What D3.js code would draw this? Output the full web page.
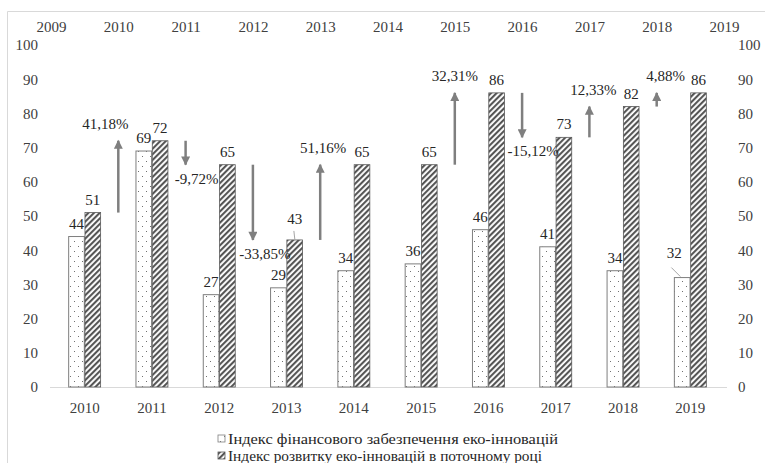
<!DOCTYPE html>
<html>
<head>
<meta charset="utf-8">
<script src="https://cdn.jsdelivr.net/npm/d3@7"></script>
<style>
  body { margin: 0; background: #fff; }
  svg { display: block; }
  svg text { font-family: 'Liberation Serif', 'Times New Roman', serif; }
</style>
</head>
<body>
<svg width="765" height="463"></svg>
<script>
// data
var years = [2010, 2011, 2012, 2013, 2014, 2015, 2016, 2017, 2018, 2019];
var topYears = [2009, 2010, 2011, 2012, 2013, 2014, 2015, 2016, 2017, 2018, 2019];
var finIndex = [44, 69, 27, 29, 34, 36, 46, 41, 34, 32];
var ecoIndex = [51, 72, 65, 43, 65, 65, 86, 73, 82, 86];
var growth = [41.18, -9.72, -33.85, 51.16, 0, 32.31, -15.12, 12.33, 4.88];
var yTicks = [0, 10, 20, 30, 40, 50, 60, 70, 80, 90, 100];
var seriesNames = ['Індекс фінансового забезпечення еко-інновацій',
                   'Індекс розвитку еко-інновацій в поточному році'];

// small label nudges (layout only)
var growthLabelDx = [-13, 11, 12, 3, 0, 0, 11, 4, 9];

var svg = d3.select('svg');

// outer frame (only top and left edges visible)
svg.append('path')
    .attr('d', 'M7.5,463 V11.5 H765')
    .attr('fill', 'none')
    .attr('stroke', '#d9d9d9');

var defs = svg.append('defs');

var dots = defs.append('pattern')
    .attr('id', 'dots')
    .attr('patternUnits', 'userSpaceOnUse')
    .attr('width', 8)
    .attr('height', 10);
dots.append('rect').attr('width', 8).attr('height', 10).attr('fill', '#fff');
dots.append('rect').attr('x', 2).attr('y', 1).attr('width', 1).attr('height', 1).attr('fill', '#707070');
dots.append('rect').attr('x', 6).attr('y', 6).attr('width', 1).attr('height', 1).attr('fill', '#707070');

var hatch = defs.append('pattern')
    .attr('id', 'hatch')
    .attr('patternUnits', 'userSpaceOnUse')
    .attr('width', 4)
    .attr('height', 4)
    .attr('patternTransform', 'rotate(45)');
hatch.append('rect').attr('width', 4).attr('height', 4).attr('fill', '#fff');
hatch.append('line')
    .attr('x1', 1).attr('y1', 0).attr('x2', 1).attr('y2', 4)
    .attr('stroke', '#555')
    .attr('stroke-width', 2.2);

defs.append('marker')
    .attr('id', 'head')
    .attr('viewBox', '0 0 10 10')
    .attr('refX', 9)
    .attr('refY', 5)
    .attr('markerUnits', 'userSpaceOnUse')
    .attr('markerWidth', 10)
    .attr('markerHeight', 9)
    .attr('orient', 'auto')
    .append('path')
    .attr('d', 'M0,0 L10,5 L0,10 Z')
    .attr('fill', '#7f7f7f');

var scaleX = d3.scaleBand().domain(years).range([51, 724]).paddingInner(0.525).paddingOuter(0.2625);
var scaleSub = d3.scaleBand().domain([0, 1]).range([0, scaleX.bandwidth()]).paddingInner(0.04);
var scaleTop = d3.scaleLinear().domain([2009, 2019]).range([51, 724]);
var scaleY = d3.scaleLinear().domain([0, 100]).range([387, 45]);

function pct(g) {
    return (g < 0 ? '-' : '') + Math.abs(g).toFixed(2).replace('.', ',') + '%';
}

// top axis
var topAxis = svg.append('g')
    .attr('transform', 'translate(0,35)')
    .call(d3.axisTop(scaleTop).tickValues(topYears).tickFormat(d3.format('d')).tickSize(0));
topAxis.select('.domain').remove();

// left axis
var leftAxis = svg.append('g')
    .attr('transform', 'translate(40,0)')
    .call(d3.axisLeft(scaleY).tickValues(yTicks).tickSize(0).tickPadding(2));
leftAxis.select('.domain').remove();

// right axis
var rightAxis = svg.append('g')
    .attr('transform', 'translate(736,0)')
    .call(d3.axisRight(scaleY).tickValues(yTicks).tickSize(0).tickPadding(2));
rightAxis.select('.domain').remove();

// bottom axis
var bottomAxis = svg.append('g')
    .attr('transform', 'translate(0,387)')
    .call(d3.axisBottom(scaleX).tickSize(0).tickPadding(15));
bottomAxis.select('.domain').remove();
svg.append('line')
    .attr('x1', 50).attr('x2', 727)
    .attr('y1', 387.5).attr('y2', 387.5)
    .attr('stroke', '#d9d9d9');

svg.selectAll('g').attr('font-family', null);
svg.selectAll('.tick text')
    .attr('font-size', 15)
    .attr('fill', '#404040');

var rows = years.map(function(y, i) { return {year: y, fin: finIndex[i], eco: ecoIndex[i]}; });

// financial bars
svg.selectAll('rect.fin')
    .data(rows)
    .enter()
    .append('rect')
    .attr('class', 'fin')
    .attr('x', function(d) { return scaleX(d.year) + scaleSub(0); })
    .attr('y', function(d) { return scaleY(d.fin); })
    .attr('width', scaleSub.bandwidth())
    .attr('height', function(d) { return scaleY(0) - scaleY(d.fin); })
    .attr('fill', 'url(#dots)')
    .attr('stroke', '#7f7f7f')
    .attr('stroke-width', 1);

// eco bars
svg.selectAll('rect.eco')
    .data(rows)
    .enter()
    .append('rect')
    .attr('class', 'eco')
    .attr('x', function(d) { return scaleX(d.year) + scaleSub(1); })
    .attr('y', function(d) { return scaleY(d.eco); })
    .attr('width', scaleSub.bandwidth())
    .attr('height', function(d) { return scaleY(0) - scaleY(d.eco); })
    .attr('fill', 'url(#hatch)')
    .attr('stroke', '#595959')
    .attr('stroke-width', 0.8);

// bar value labels
var lift = {fin: {2019: 12}, eco: {2013: 8}};
['fin', 'eco'].forEach(function(key, k) {
    svg.selectAll('text.' + key)
        .data(rows)
        .enter()
        .append('text')
        .attr('class', key)
        .attr('x', function(d) {
            var dx = (key == 'fin' && d.year == 2019) ? -8 : 0;
            return scaleX(d.year) + scaleSub(k) + scaleSub.bandwidth() / 2 + dx;
        })
        .attr('y', function(d) { return scaleY(d[key]) - 8 - (lift[key][d.year] || 0); })
        .attr('text-anchor', 'middle')
        .attr('font-size', 15)
        .attr('fill', '#262626')
        .text(function(d) { return d[key]; });
});

// leader lines for the two lifted labels
svg.append('line')
    .attr('x1', scaleX(2013) + scaleSub(1) + 7).attr('y1', scaleY(43) - 9)
    .attr('x2', scaleX(2013) + scaleSub(1) + 8).attr('y2', scaleY(43))
    .attr('stroke', '#a6a6a6');
svg.append('line')
    .attr('x1', scaleX(2019) + scaleSub(0) - 3).attr('y1', scaleY(32) - 10)
    .attr('x2', scaleX(2019) + scaleSub(0) + 6).attr('y2', scaleY(32) - 1)
    .attr('stroke', '#a6a6a6');

// growth arrows, from one year's eco index to the next
var steps = growth.map(function(g, i) {
    return {g: g, at: years[i], from: ecoIndex[i], to: ecoIndex[i + 1], dx: growthLabelDx[i]};
}).filter(function(d) { return d.g != 0; });

svg.selectAll('line.arrow')
    .data(steps)
    .enter()
    .append('line')
    .attr('class', 'arrow')
    .attr('x1', function(d) { return scaleTop(d.at); })
    .attr('x2', function(d) { return scaleTop(d.at); })
    .attr('y1', function(d) { return scaleY(d.from); })
    .attr('y2', function(d) { return scaleY(d.to); })
    .attr('stroke', '#7f7f7f')
    .attr('stroke-width', 2.5)
    .attr('marker-end', 'url(#head)');

svg.selectAll('text.growth')
    .data(steps)
    .enter()
    .append('text')
    .attr('class', 'growth')
    .attr('x', function(d) { return scaleTop(d.at) + d.dx; })
    .attr('y', function(d) { return d.g > 0 ? scaleY(d.to) - 12 : scaleY(d.to) + 19; })
    .attr('text-anchor', 'middle')
    .attr('font-size', 15)
    .attr('fill', '#262626')
    .text(function(d) { return pct(d.g); });

// legend
var legend = svg.append('g').attr('transform', 'translate(218,0)');
var fills = ['url(#dots)', 'url(#hatch)'];
var strokes = ['#7f7f7f', '#595959'];
var legendLen = [330, 314];
seriesNames.forEach(function(name, i) {
    var yy = 439 + i * 17;
    legend.append('rect')
        .attr('x', 0).attr('y', yy - 4)
        .attr('width', 7).attr('height', 7)
        .attr('fill', fills[i])
        .attr('stroke', strokes[i])
        .attr('stroke-width', 0.8);
    legend.append('text')
        .attr('x', 10).attr('y', yy + 5)
        .attr('font-size', 15)
        .attr('fill', '#262626')
        .attr('textLength', legendLen[i])
        .attr('lengthAdjust', 'spacingAndGlyphs')
        .text(name);
});
</script>
</body>
</html>
